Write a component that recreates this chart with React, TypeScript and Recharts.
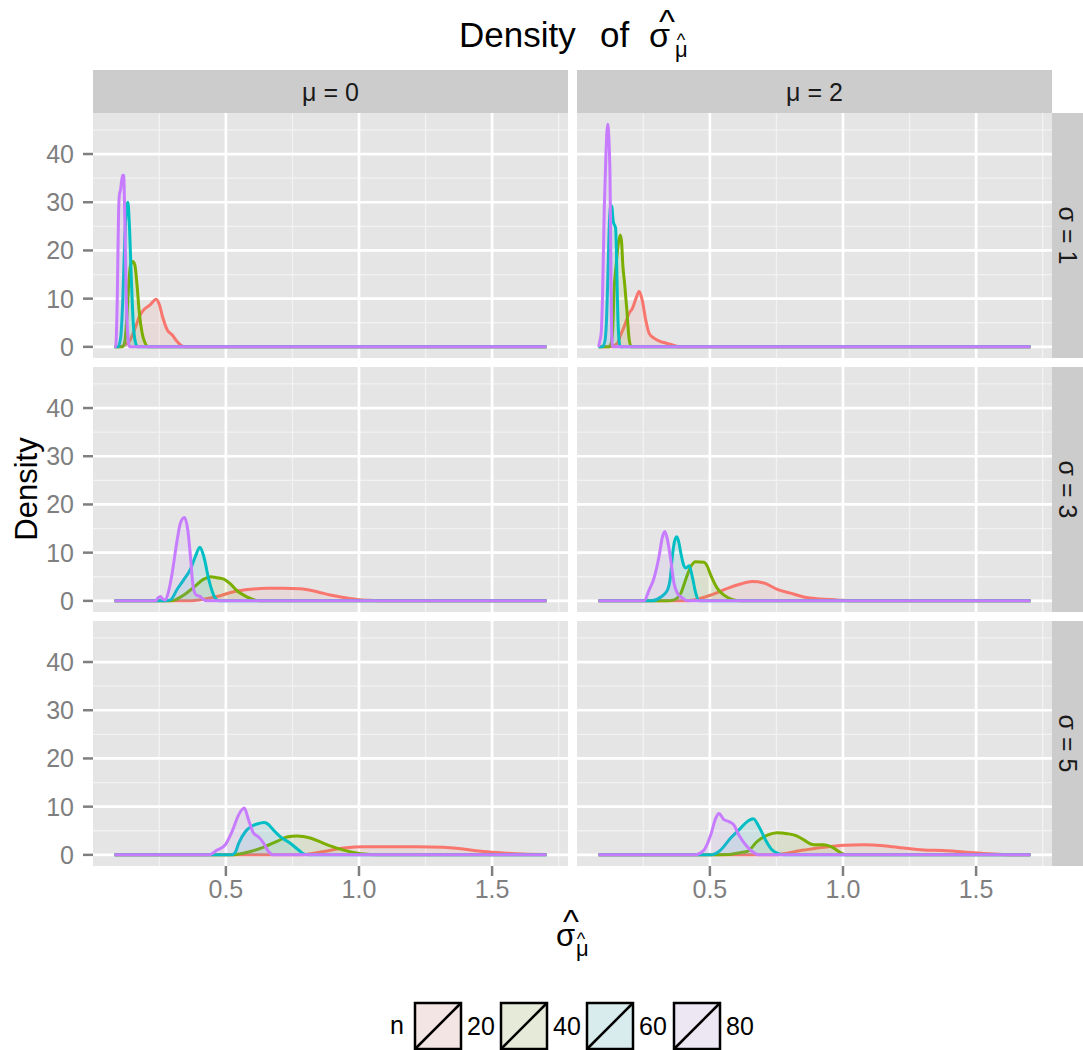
import { AreaChart, Area, XAxis, YAxis, CartesianGrid } from 'recharts';

type Pt = [number, number];

const sampleSizes = ['20', '40', '60', '80'];
const seriesColors = ['#F8766D', '#7CAE00', '#00BFC4', '#C77CFF'];
const muLabels = ['0', '2'];
const sigmaLabels = ['1', '3', '5'];
const yMajor = [0, 10, 20, 30, 40];
const yMinor = [5, 15, 25, 35, 45];
const xMajor = [0.5, 1.0, 1.5];
const xMinor = [0.25, 0.75, 1.25, 1.75];

// mu = 0, sigma = 1
const m0s1n20: Pt[] = [[0.082, 0], [0.1, 0], [0.12, 0.4], [0.14, 1.4], [0.16, 4], [0.175, 6.3], [0.19, 7.6], [0.215, 8.7], [0.238, 9.9], [0.25, 8.8], [0.262, 6.3], [0.28, 3.5], [0.298, 2.5], [0.317, 1.1], [0.33, 0.4], [0.345, 0], [1.704, 0]];
const m0s1n40: Pt[] = [[0.082, 0], [0.11, 0], [0.12, 1], [0.128, 6], [0.135, 13], [0.142, 17], [0.15, 17.7], [0.158, 17], [0.166, 13], [0.175, 7], [0.185, 3], [0.195, 1], [0.21, 0], [1.704, 0]];
const m0s1n60: Pt[] = [[0.082, 0], [0.095, 0], [0.105, 2], [0.113, 10], [0.12, 22], [0.127, 29], [0.132, 30], [0.137, 26], [0.145, 14], [0.152, 5], [0.16, 1], [0.168, 0], [1.704, 0]];
const m0s1n80: Pt[] = [[0.082, 0], [0.086, 0], [0.092, 10], [0.097, 28], [0.1, 31.5], [0.104, 32.5], [0.112, 35.6], [0.116, 35.6], [0.121, 25], [0.126, 10], [0.131, 3], [0.138, 0], [1.704, 0]];

// mu = 2, sigma = 1
const m2s1n20: Pt[] = [[0.082, 0], [0.12, 0], [0.14, 0.3], [0.153, 0.8], [0.165, 2.5], [0.178, 4.2], [0.197, 7], [0.209, 8], [0.222, 10], [0.234, 11.5], [0.247, 9.4], [0.259, 5.6], [0.272, 2.8], [0.29, 1.8], [0.315, 1.1], [0.334, 0.8], [0.365, 0.3], [0.385, 0], [1.704, 0]];
const m2s1n40: Pt[] = [[0.082, 0], [0.12, 0], [0.13, 1], [0.136, 5], [0.14, 11.5], [0.148, 17], [0.155, 21], [0.163, 23.2], [0.168, 22], [0.173, 17], [0.18, 13], [0.188, 7.7], [0.197, 1.5], [0.205, 0], [1.704, 0]];
const m2s1n60: Pt[] = [[0.082, 0], [0.095, 0], [0.105, 1], [0.112, 6], [0.117, 15], [0.122, 25], [0.128, 29.4], [0.132, 29], [0.137, 26], [0.146, 24.6], [0.15, 17], [0.154, 7], [0.158, 2], [0.163, 0], [1.704, 0]];
const m2s1n80: Pt[] = [[0.082, 0], [0.086, 1], [0.092, 3], [0.097, 11], [0.103, 28], [0.109, 39], [0.116, 46.2], [0.12, 44], [0.125, 35], [0.128, 18], [0.131, 3], [0.135, 0], [1.704, 0]];

// mu = 0, sigma = 3
const m0s3n20: Pt[] = [[0.082, 0], [0.35, 0], [0.4, 0.2], [0.467, 0.9], [0.529, 1.9], [0.592, 2.4], [0.654, 2.6], [0.717, 2.6], [0.779, 2.5], [0.842, 1.9], [0.892, 1.2], [0.942, 0.7], [0.992, 0.3], [1.05, 0.1], [1.12, 0], [1.704, 0]];
const m0s3n40: Pt[] = [[0.082, 0], [0.28, 0], [0.304, 0.1], [0.342, 1.2], [0.379, 2.8], [0.417, 4.5], [0.442, 5], [0.467, 4.8], [0.492, 4.5], [0.517, 3.5], [0.542, 2.1], [0.567, 1.2], [0.592, 0.5], [0.63, 0], [1.704, 0]];
const m0s3n60: Pt[] = [[0.082, 0], [0.27, 0], [0.292, 0.2], [0.317, 2.4], [0.342, 4.4], [0.367, 6.6], [0.386, 9.3], [0.402, 11.1], [0.417, 9.2], [0.436, 4.4], [0.454, 1.2], [0.475, 0], [1.704, 0]];
const m0s3n80: Pt[] = [[0.082, 0], [0.235, 0], [0.245, 0.6], [0.254, 0.9], [0.263, 0.4], [0.273, 0.2], [0.285, 2], [0.298, 5.7], [0.317, 12.6], [0.329, 16.1], [0.344, 17.3], [0.357, 14.7], [0.367, 9.2], [0.377, 3], [0.389, 1.2], [0.404, 0.9], [0.415, 0.3], [0.425, 0], [1.704, 0]];

// mu = 2, sigma = 3
const m2s3n20: Pt[] = [[0.082, 0], [0.4, 0], [0.44, 0.2], [0.503, 1.2], [0.566, 2.6], [0.615, 3.5], [0.659, 4], [0.703, 3.7], [0.753, 2.4], [0.803, 1.6], [0.853, 0.8], [0.915, 0.4], [0.978, 0.2], [1.04, 0], [1.704, 0]];
const m2s3n40: Pt[] = [[0.082, 0], [0.34, 0], [0.365, 0.2], [0.391, 1.6], [0.409, 4.4], [0.428, 7.1], [0.447, 8.1], [0.478, 8], [0.491, 7.1], [0.503, 5.4], [0.528, 2.6], [0.553, 1.2], [0.59, 0.2], [0.62, 0], [1.704, 0]];
const m2s3n60: Pt[] = [[0.082, 0], [0.28, 0], [0.316, 0.8], [0.341, 2.3], [0.352, 5], [0.359, 9.2], [0.368, 12.5], [0.376, 13.3], [0.384, 12], [0.391, 9.9], [0.403, 7.2], [0.41, 6.8], [0.422, 7.3], [0.434, 5], [0.447, 1.6], [0.46, 0], [1.704, 0]];
const m2s3n80: Pt[] = [[0.082, 0], [0.253, 0], [0.272, 2.3], [0.29, 4.7], [0.309, 9.2], [0.322, 13.3], [0.331, 14.4], [0.341, 12.6], [0.353, 8.5], [0.365, 3.7], [0.378, 1.6], [0.397, 0.6], [0.416, 0], [1.704, 0]];

// mu = 0, sigma = 5
const m0s5n20: Pt[] = [[0.082, 0], [0.77, 0], [0.867, 0.7], [0.942, 1.4], [1.017, 1.7], [1.117, 1.7], [1.217, 1.7], [1.317, 1.6], [1.392, 1.2], [1.467, 0.7], [1.542, 0.4], [1.617, 0.2], [1.704, 0.1]];
const m0s5n40: Pt[] = [[0.082, 0], [0.52, 0], [0.592, 0.7], [0.642, 1.6], [0.692, 2.8], [0.729, 3.7], [0.767, 3.9], [0.817, 3.5], [0.867, 2.4], [0.917, 1.4], [0.979, 0.5], [1.042, 0.1], [1.1, 0], [1.704, 0]];
const m0s5n60: Pt[] = [[0.082, 0], [0.52, 0], [0.535, 0.5], [0.548, 2.4], [0.573, 4.8], [0.598, 6], [0.617, 6.4], [0.644, 6.7], [0.66, 6.3], [0.673, 5.5], [0.69, 4.5], [0.704, 3.8], [0.742, 2.4], [0.773, 1], [0.792, 0.2], [0.81, 0], [1.704, 0]];
const m0s5n80: Pt[] = [[0.082, 0], [0.436, 0], [0.467, 1], [0.498, 2.1], [0.523, 4.8], [0.548, 8.3], [0.569, 9.7], [0.585, 7.3], [0.604, 4.5], [0.623, 3.7], [0.642, 2.4], [0.66, 0.7], [0.679, 0], [1.704, 0]];

// mu = 2, sigma = 5
const m2s5n20: Pt[] = [[0.082, 0], [0.74, 0], [0.853, 1], [0.928, 1.6], [1.003, 2], [1.078, 2.1], [1.153, 1.9], [1.228, 1.4], [1.303, 1], [1.378, 0.9], [1.453, 0.6], [1.528, 0.3], [1.6, 0.1], [1.704, 0]];
const m2s5n40: Pt[] = [[0.082, 0], [0.53, 0], [0.64, 0.7], [0.678, 2.8], [0.716, 4.1], [0.753, 4.6], [0.791, 4.4], [0.828, 3.9], [0.853, 3.1], [0.89, 2.1], [0.928, 2.1], [0.959, 1.6], [0.99, 0.5], [1.01, 0], [1.704, 0]];
const m2s5n60: Pt[] = [[0.082, 0], [0.503, 0], [0.54, 1], [0.578, 3.5], [0.615, 5.5], [0.64, 6.9], [0.663, 7.5], [0.684, 5.9], [0.709, 3.1], [0.734, 1], [0.76, 0.2], [0.78, 0], [1.704, 0]];
const m2s5n80: Pt[] = [[0.082, 0], [0.44, 0], [0.478, 1], [0.503, 4.1], [0.522, 7.6], [0.534, 8.6], [0.553, 7.3], [0.572, 6.9], [0.59, 6.2], [0.609, 4.1], [0.634, 2.1], [0.659, 0.7], [0.685, 0], [1.704, 0]];

// rows = sigma, cols = mu
const panelGrid: Pt[][][][] = [
  [[m0s1n20, m0s1n40, m0s1n60, m0s1n80], [m2s1n20, m2s1n40, m2s1n60, m2s1n80]],
  [[m0s3n20, m0s3n40, m0s3n60, m0s3n80], [m2s3n20, m2s3n40, m2s3n60, m2s3n80]],
  [[m0s5n20, m0s5n40, m0s5n60, m0s5n80], [m2s5n20, m2s5n40, m2s5n60, m2s5n80]],
];

const FONT = '"Liberation Sans", Arial, Helvetica, sans-serif';
const PANEL_W = 475;
const PANEL_H = 245;
const Y_AXIS_W = 60;
const X_AXIS_H = 50;
const EDGE_PAD = 6;
const colLeft = [93, 577];
const rowTop = [113, 367, 621];

// shared scales like facet_grid: range + 5% expansion
const allPts = panelGrid.flat(3) as unknown as Pt[];
const xVals = allPts.map((p) => p[0]);
const yVals = allPts.map((p) => p[1]);
const xLo = Math.min(...xVals);
const xHi = Math.max(...xVals);
const yHi = Math.max(...yVals);
const xDomain: [number, number] = [xLo - (xHi - xLo) * 0.05, xHi + (xHi - xLo) * 0.05];
const yDomain: [number, number] = [-yHi * 0.05, yHi * 1.05];

function buildTable(series: Pt[][]) {
  const xs = Array.from(new Set(series.flatMap((s) => s.map((p) => p[0])))).sort((a, b) => a - b);
  return xs.map((x) => {
    const row: Record<string, number> = { x };
    series.forEach((s, i) => {
      const hit = s.find((p) => p[0] === x);
      if (hit) row['n' + sampleSizes[i]] = hit[1];
    });
    return row;
  });
}

function Panel({ series, showY, showX }: { series: Pt[][]; showY: boolean; showX: boolean }) {
  const table = buildTable(series);
  // left column gets a little room top/bottom so the 0 and 40 labels are not cut
  const pad = showY ? EDGE_PAD : 0;
  return (
    <AreaChart
      width={PANEL_W + (showY ? Y_AXIS_W : 0)}
      height={PANEL_H + (showX ? X_AXIS_H : pad)}
      data={table}
      margin={{ top: 0, right: 0, bottom: showX ? 0 : pad, left: 0 }}
    >
      <CartesianGrid fill="#E5E5E5" fillOpacity={1} stroke="#F2F2F2" strokeWidth={1.3} horizontalValues={yMinor} verticalValues={xMinor} />
      <CartesianGrid stroke="#FFFFFF" strokeWidth={2.7} horizontalValues={yMajor} verticalValues={xMajor} />
      <XAxis
        type="number"
        dataKey="x"
        domain={xDomain}
        allowDataOverflow
        ticks={xMajor}
        interval={0}
        tickFormatter={(v: number) => v.toFixed(1)}
        hide={!showX}
        height={X_AXIS_H}
        axisLine={false}
        tickSize={10}
        tickMargin={4}
        tickLine={{ stroke: '#7F7F7F', strokeWidth: 2.5 }}
        tick={{ fill: '#7F7F7F', fontSize: 25, fontFamily: FONT }}
      />
      <YAxis
        type="number"
        domain={yDomain}
        allowDataOverflow
        ticks={yMajor}
        interval={0}
        hide={!showY}
        width={Y_AXIS_W}
        axisLine={false}
        tickSize={10}
        tickMargin={9}
        tickLine={{ stroke: '#7F7F7F', strokeWidth: 2.5 }}
        tick={{ fill: '#7F7F7F', fontSize: 25, fontFamily: FONT }}
      />
      {sampleSizes.map((n, i) => (
        <Area
          key={n}
          type="monotone"
          dataKey={'n' + n}
          stroke={seriesColors[i]}
          strokeWidth={3}
          fill={seriesColors[i]}
          fillOpacity={0.1}
          connectNulls
          dot={false}
          activeDot={false}
          isAnimationActive={false}
        />
      ))}
    </AreaChart>
  );
}

function Hat({ x, y, size }: { x: number; y: number; size: number }) {
  return (
    <text x={x} y={y} fontSize={size} textAnchor="middle" fontFamily={FONT} fill="#000">
      ^
    </text>
  );
}

export default function App() {
  const keyX = [415, 501, 587, 674];
  return (
    <div style={{ position: 'absolute', left: 0, top: 0, width: 1083, height: 1050, background: '#fff', fontFamily: FONT }}>
      <svg width={1083} height={1050} style={{ position: 'absolute', left: 0, top: 0 }}>
        {/* title */}
        <text x={459} y={47} fontSize={35} fontFamily={FONT} fill="#000">Density</text>
        <text x={600} y={47} fontSize={35} fontFamily={FONT} fill="#000">of</text>
        <text x={649} y={47} fontSize={34} fontFamily={FONT} fill="#000">σ</text>
        <Hat x={667} y={33} size={34} />
        <text x={675} y={57} fontSize={22} fontFamily={FONT} fill="#000">μ</text>
        <Hat x={681} y={46} size={18} />

        {/* column strips */}
        {muLabels.map((m, c) => (
          <g key={m}>
            <rect x={colLeft[c]} y={70} width={PANEL_W} height={43} fill="#CCCCCC" />
            <text x={colLeft[c] + PANEL_W / 2} y={91.5} fontSize={25} textAnchor="middle" dominantBaseline="central" fontFamily={FONT} fill="#1A1A1A">
              {`μ = ${m}`}
            </text>
          </g>
        ))}

        {/* row strips */}
        {sigmaLabels.map((s, r) => (
          <g key={s}>
            <rect x={1052} y={rowTop[r]} width={31} height={PANEL_H} fill="#CCCCCC" />
            <text
              x={1068}
              y={rowTop[r] + PANEL_H / 2}
              fontSize={25}
              textAnchor="middle"
              dominantBaseline="central"
              fontFamily={FONT}
              fill="#1A1A1A"
              transform={`rotate(90 1068 ${rowTop[r] + PANEL_H / 2})`}
            >
              {`σ = ${s}`}
            </text>
          </g>
        ))}

        {/* axis titles */}
        <text x={26} y={489} fontSize={31} textAnchor="middle" dominantBaseline="central" fontFamily={FONT} fill="#000" transform="rotate(-90 26 489)">
          Density
        </text>
        <text x={556} y={946} fontSize={31} fontFamily={FONT} fill="#000">σ</text>
        <Hat x={571} y={933} size={34} />
        <text x={576} y={956} fontSize={22} fontFamily={FONT} fill="#000">μ</text>
        <Hat x={581} y={945} size={18} />

        {/* legend */}
        <text x={390} y={1034} fontSize={25} fontFamily={FONT} fill="#000">n</text>
        {sampleSizes.map((n, i) => (
          <g key={n}>
            <rect x={keyX[i]} y={1003} width={46} height={46} fill="#F2F2F2" />
            <rect x={keyX[i]} y={1003} width={46} height={46} fill={seriesColors[i]} fillOpacity={0.1} stroke="#000" strokeWidth={2.5} />
            <line x1={keyX[i]} y1={1049} x2={keyX[i] + 46} y2={1003} stroke="#000" strokeWidth={2.5} />
            <text x={keyX[i] + 52} y={1035} fontSize={25} fontFamily={FONT} fill="#000">{n}</text>
          </g>
        ))}
      </svg>

      {panelGrid.map((row, r) =>
        row.map((series, c) => (
          <div
            key={`${r}-${c}`}
            style={{ position: 'absolute', left: colLeft[c] - (c === 0 ? Y_AXIS_W : 0), top: rowTop[r] }}
          >
            <Panel series={series} showY={c === 0} showX={r === 2} />
          </div>
        )),
      )}
    </div>
  );
}
